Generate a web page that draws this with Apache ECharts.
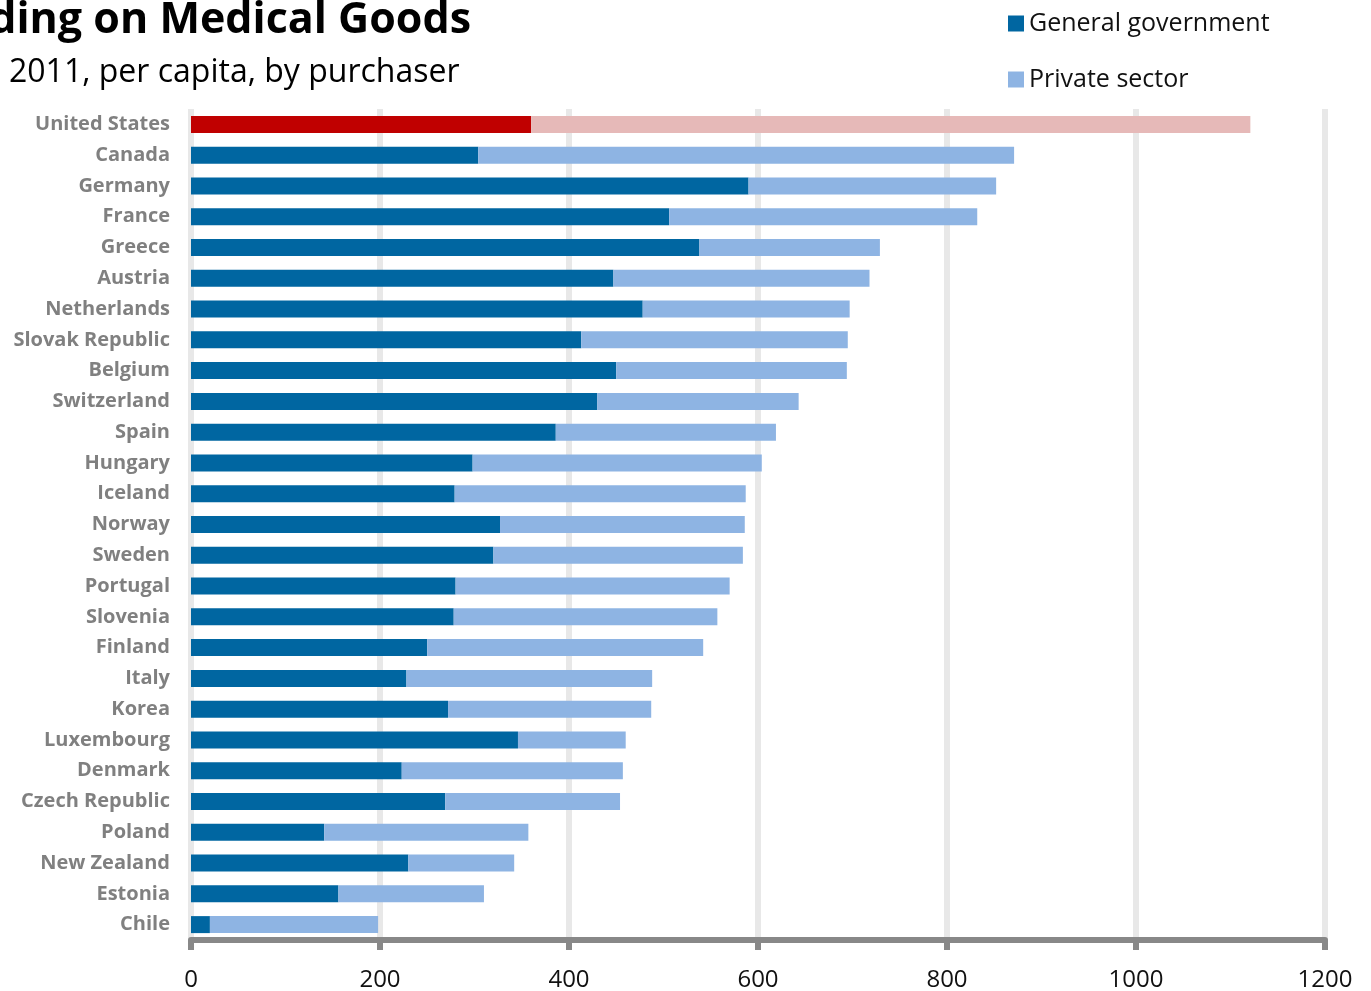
<!DOCTYPE html>
<html>
<head>
<meta charset="utf-8">
<script src="https://cdn.jsdelivr.net/npm/echarts@6/dist/echarts.min.js"></script>
<style>html,body{margin:0;padding:0;background:#fff}#c{width:1371px;height:991px}</style>
</head>
<body>
<div id="c"></div>
<script>
const countries = ["United States","Canada","Germany","France","Greece","Austria","Netherlands","Slovak Republic","Belgium","Switzerland","Spain","Hungary","Iceland","Norway","Sweden","Portugal","Slovenia","Finland","Italy","Korea","Luxembourg","Denmark","Czech Republic","Poland","New Zealand","Estonia","Chile"];
const government = [360,304,590,506,538,447,478,413,450,430,386,298,279,327,320,280,278,250,228,272,346,223,269,141,230,156,20];
const privateSector = [761,567,262,326,191,271,219,282,244,213,233,306,308,259,264,290,279,292,260,215,114,234,185,216,112,154,178];
const xTicks = [0,200,400,600,800,1000,1200];
const highlight = "United States";

const GOV = "#0066A1", PRIV = "#8EB4E3", GOV_HI = "#C00000", PRIV_HI = "#E6B9B8";
const FONT = "'Open Sans', 'Noto Sans', sans-serif";

const chart = echarts.init(document.getElementById('c'), null, {renderer: 'canvas'});
chart.setOption({
  animation: false,
  backgroundColor: '#fff',
  title: [
    {text: 'Spending on Medical Goods', right: 900, top: -1, padding: 0,
     textStyle: {fontFamily: FONT, fontWeight: 'bold', fontSize: 43, color: '#000'}},
    {text: '2011, per capita, by purchaser', left: 9, top: 57, padding: 0,
     textStyle: {fontFamily: FONT, fontWeight: 'normal', fontSize: 32, color: '#000'}}
  ],
  legend: {
    orient: 'vertical', left: 1008, top: 11, padding: 0, itemWidth: 16, itemHeight: 16, itemGap: 31,
    icon: 'rect',
    textStyle: {fontFamily: FONT, fontSize: 25, color: '#111'},
    data: [{name: 'General government', itemStyle: {color: GOV}}, {name: 'Private sector', itemStyle: {color: PRIV}}]
  },
  grid: {left: 191, right: 46, top: 109, bottom: 51, containLabel: false, outerBoundsMode: 'none'},
  xAxis: {
    type: 'value', min: 0, max: 1200, interval: 200,
    axisLine: {show: true, lineStyle: {color: '#888', width: 6}},
    axisTick: {show: true, length: 10, lineStyle: {color: '#888', width: 6}},
    splitLine: {show: true, lineStyle: {color: '#e8e8e8', width: 6}},
    axisLabel: {fontFamily: FONT, fontSize: 24, color: '#111', margin: 28,
      formatter: v => xTicks.includes(v) ? String(v) : ''}
  },
  yAxis: {
    type: 'category', data: countries, inverse: true,
    axisLine: {show: false}, axisTick: {show: false},
    axisLabel: {fontFamily: FONT, fontSize: 20, fontWeight: 'bold', color: '#808080', margin: 21}
  },
  series: [
    {name: 'General government', type: 'bar', stack: 's', barWidth: 17,
     itemStyle: {color: GOV},
     data: government.map((v, i) => countries[i] === highlight ? {value: v, itemStyle: {color: GOV_HI}} : v)},
    {name: 'Private sector', type: 'bar', stack: 's', barWidth: 17,
     itemStyle: {color: PRIV},
     data: privateSector.map((v, i) => countries[i] === highlight ? {value: v, itemStyle: {color: PRIV_HI}} : v)}
  ]
});
</script>
</body>
</html>
